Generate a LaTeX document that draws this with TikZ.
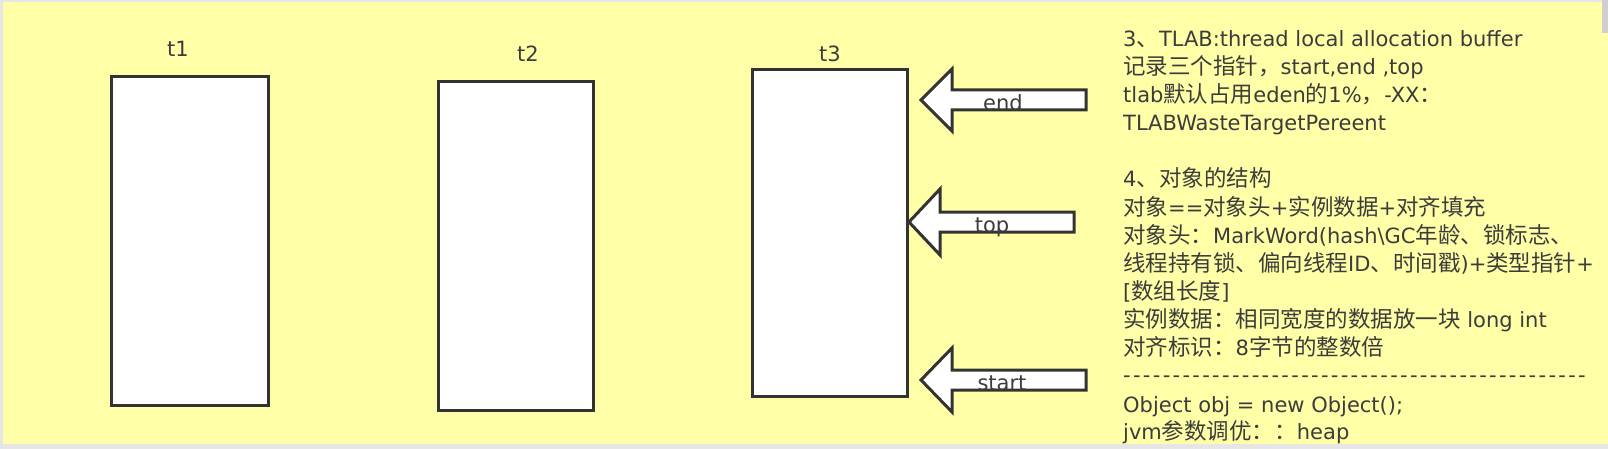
\documentclass[tikz,border=0pt]{standalone}
\usepackage{fontspec}
\setmainfont{DejaVu Sans}[Ligatures=TeXOff]
\newfontfamily\zhfont{Noto Sans CJK SC}[Ligatures=TeXOff]
\newfontfamily\dashfont{DejaVu Sans}[Ligatures=TeXOff, LetterSpace=11]
\newcommand\zhtxt[1]{{\zhfont\fontsize{22.5}{26}\selectfont #1}}
\definecolor{bgyellow}{HTML}{FFFFA8}
\definecolor{bggrey}{HTML}{E6E6E6}
\definecolor{linegrey}{HTML}{333333}
\definecolor{txtgrey}{HTML}{3C3C3C}
\tikzset{
  tbox/.style={draw=linegrey, line width=3pt, fill=white, inner sep=0pt, minimum width=#1},
  tlabel/.style={text=txtgrey, font=\fontsize{21}{25}\selectfont, inner sep=0pt, anchor=base},
  barrow/.style={draw=linegrey, line width=3pt, fill=white, line join=miter},
  alabel/.style={text=txtgrey, font=\fontsize{21}{25}\selectfont, inner sep=0pt, anchor=base},
  noteline/.style={text=txtgrey, font=\fontsize{21}{25}\selectfont, inner sep=0pt, anchor=base west},
}
\newcommand\blockarrow[6]{% tipx tipy headx headhalf shafthalf rightx
  \draw[barrow] (#1,#2) -- (#3,#2-#4) -- (#3,#2-#5) -- (#6,#2-#5) -- (#6,#2+#5) -- (#3,#2+#5) -- (#3,#2+#4) -- cycle;}
\begin{document}
\begin{tikzpicture}[x=1pt,y=-1pt]
\useasboundingbox (0,0) rectangle (1608,449);
\fill[bggrey] (0,0) rectangle (1608,449);
\fill[bgyellow] (3,2) rectangle (1608,444);
\fill[bggrey!90!black] (1602,0) rectangle (1608,33);
% thread boxes
\node[tbox=156.5pt, minimum height=329.5pt] (t1) at (190,241) {};
\node[tbox=154.5pt, minimum height=328.5pt] (t2) at (516,246) {};
\node[tbox=155pt, minimum height=327.5pt] (t3) at (829.5,233) {};
\node[tlabel] (l1) at (178,57) {t1};
\node[tlabel] (l2) at (528,62) {t2};
\node[tlabel] (l3) at (830,62) {t3};
% pointer arrows
\blockarrow{921}{100}{952}{31}{10}{1086}
\blockarrow{909}{222}{940}{33}{10}{1074}
\blockarrow{921}{380}{952}{32}{10}{1086}
\node[alabel] (aend) at (1003,110.5) {end};
\node[alabel] (atop) at (992,233) {top};
\node[alabel] (astart) at (1002,390.5) {start};
% notes
\node[noteline] (n0) at (1123,47) {3\zhtxt{、}TLAB:thread local allocation buffer};
\node[noteline] (n1) at (1123,75) {\zhtxt{记录三个指针，}start,end ,top};
\node[noteline] (n2) at (1123,103) {tlab\zhtxt{默认占用}eden\zhtxt{的}1\%\zhtxt{，}-XX\zhtxt{：}};
\node[noteline] (n3) at (1123,131) {TLABWasteTargetPereent};
\node[noteline] (n5) at (1123,187) {4\zhtxt{、对象的结构}};
\node[noteline] (n6) at (1123,215) {\zhtxt{对象}==\zhtxt{对象头}+\zhtxt{实例数据}+\zhtxt{对齐填充}};
\node[noteline] (n7) at (1123,243) {\zhtxt{对象头：}MarkWord(hash\textbackslash GC\zhtxt{年龄、锁标志、}};
\node[noteline] (n8) at (1123,271) {\zhtxt{线程持有锁、偏向线程}ID\zhtxt{、时间戳})+\zhtxt{类型指针}+};
\node[noteline] (n9) at (1123,299) {[\zhtxt{数组长度}]};
\node[noteline] (n10) at (1123,327) {\zhtxt{实例数据：相同宽度的数据放一块} long int};
\node[noteline] (n11) at (1123,355) {\zhtxt{对齐标识：}8\zhtxt{字节的整数倍}};
\node[noteline] (n12) at (1123,382) {\dashfont -----------------------------------------------};
\node[noteline] (n13) at (1123,412) {Object obj = new Object();};
\node[noteline] (n14) at (1123,439.5) {jvm\zhtxt{参数调优：：}heap};
\end{tikzpicture}
\end{document}
